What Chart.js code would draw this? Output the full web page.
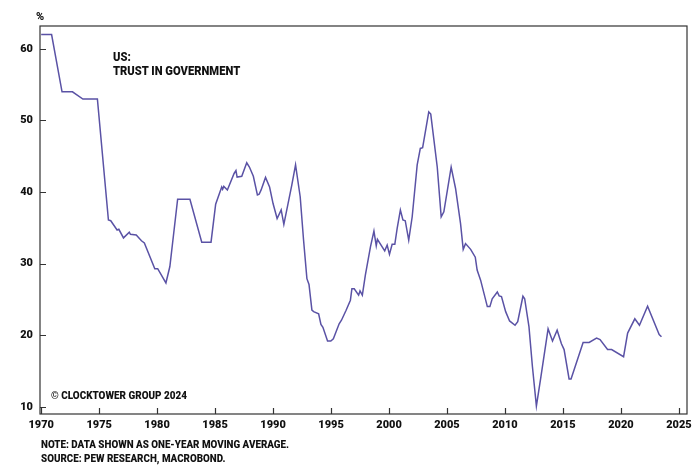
<!DOCTYPE html>
<html>
<head>
<meta charset="utf-8">
<script src="https://cdn.jsdelivr.net/npm/chart.js@4.4.1/dist/chart.umd.min.js"></script>
<style>
  body { margin: 0; background: #fff; }
  #wrap { position: relative; width: 700px; height: 467px; }
  .txt { position: absolute; font-family: Roboto, "Liberation Sans", sans-serif; font-weight: 900; color: #111; white-space: nowrap; transform-origin: 0 0; }
</style>
</head>
<body>
<div id="wrap">
  <canvas id="trustChart"></canvas>
  <div class="txt" style="left:36px; top:10px; font-size:11px;">%</div>
  <div class="txt" style="left:113px; top:50px; font-size:12.5px; line-height:13.5px; transform:scaleX(0.895);">US:<br>TRUST IN GOVERNMENT</div>
  <div class="txt" style="left:51px; top:390px; font-size:10px; transform:scaleX(0.99);">© CLOCKTOWER GROUP 2024</div>
  <div class="txt" style="left:41px; top:438px; font-size:10px; line-height:13.7px; transform:scaleX(0.98);">NOTE: DATA SHOWN AS ONE-YEAR MOVING AVERAGE.<br>SOURCE: PEW RESEARCH, MACROBOND.</div>
</div>
<script>
// one-year moving average of trust in government
const years = [1970.0, 1970.9, 1971.8, 1972.7, 1973.6, 1974.85, 1975.8, 1976.0, 1976.55, 1976.7,
  1977.1, 1977.6, 1977.7, 1978.2, 1978.65, 1978.9, 1979.8, 1980.05, 1980.76, 1981.1,
  1981.77, 1982.83, 1983.85, 1984.65, 1985.05, 1985.57, 1985.65, 1985.75, 1986.06, 1986.64,
  1986.8, 1986.9, 1987.3, 1987.73, 1987.96, 1988.3, 1988.65, 1988.8, 1988.97, 1989.35,
  1989.7, 1990.0, 1990.35, 1990.7, 1990.93, 1991.62, 1991.94, 1992.34, 1992.63, 1992.92,
  1993.1, 1993.35, 1993.5, 1993.93, 1994.13, 1994.3, 1994.7, 1994.98, 1995.2, 1995.7,
  1995.9, 1996.3, 1996.67, 1996.8, 1997.0, 1997.38, 1997.5, 1997.7, 1997.96, 1998.4,
  1998.7, 1998.9, 1999.0, 1999.63, 1999.84, 2000.04, 2000.27, 2000.5, 2000.7, 2000.98,
  2001.2, 2001.4, 2001.7, 2002.0, 2002.43, 2002.7, 2002.9, 2003.43, 2003.6, 2004.16,
  2004.5, 2004.73, 2005.36, 2005.74, 2006.17, 2006.4, 2006.6, 2007.04, 2007.44, 2007.6,
  2007.9, 2008.48, 2008.7, 2008.9, 2009.34, 2009.5, 2009.7, 2010.06, 2010.4, 2010.87,
  2011.1, 2011.55, 2011.7, 2012.07, 2012.37, 2012.71, 2013.1, 2013.72, 2014.1, 2014.5,
  2014.87, 2015.1, 2015.53, 2015.7, 2016.74, 2017.26, 2017.9, 2018.2, 2018.85, 2019.2,
  2020.23, 2020.58, 2021.2, 2021.6, 2022.3, 2023.3, 2023.5];
const trust = [62, 62, 54, 54, 53, 53, 36.1, 36, 34.7, 34.8,
  33.6, 34.4, 34.1, 34.0, 33.2, 32.9, 29.3, 29.3, 27.3, 29.6,
  39.0, 39.0, 33.0, 33.0, 38.3, 40.7, 40.4, 40.8, 40.3, 42.6,
  43.0, 42.1, 42.2, 44.1, 43.5, 42.2, 39.6, 39.7, 40.3, 42.05,
  40.7, 38.4, 36.3, 37.5, 35.5, 41.0, 43.8, 39.35, 33.3, 27.9,
  27.1, 23.5, 23.3, 23.0, 21.5, 21.1, 19.2, 19.2, 19.5, 21.6,
  22.1, 23.5, 24.9, 26.5, 26.5, 25.6, 26.2, 25.6, 28.4, 32.35,
  34.55, 32.5, 33.4, 31.8, 32.6, 31.3, 32.7, 32.7, 34.9, 37.5,
  36.1, 36.0, 33.3, 36.55, 43.8, 46.1, 46.2, 51.2, 50.9, 43.5,
  36.55, 37.25, 43.5, 40.5, 35.6, 32.0, 32.8, 32.0, 30.9, 29.1,
  27.7, 24.0, 24.0, 25.1, 26.05, 25.5, 25.4, 23.3, 22.0, 21.4,
  21.9, 25.45, 25.1, 21.2, 15.6, 10.1, 14.2, 20.9, 19.2, 20.7,
  18.8, 18.0, 13.9, 13.9, 19.0, 19.0, 19.6, 19.4, 18.0, 18.0,
  17.0, 20.3, 22.3, 21.4, 24.05, 20.1, 19.8];
const xTicks = [1970, 1975, 1980, 1985, 1990, 1995, 2000, 2005, 2010, 2015, 2020, 2025];
const yTicks = [10, 20, 30, 40, 50, 60];

const tickFont = { family: "Roboto, 'Liberation Sans', sans-serif", size: 11, weight: '900' };

// frame round the plot and short inward tick marks
const framePlugin = {
  id: 'frame',
  afterDraw(chart) {
    const { ctx, chartArea: a, scales } = chart;
    ctx.save();
    ctx.strokeStyle = '#333';
    ctx.lineWidth = 1.2;
    ctx.strokeRect(a.left, a.top, a.right - a.left, a.bottom - a.top);
    ctx.beginPath();
    scales.x.ticks.forEach(t => {
      const px = Math.round(scales.x.getPixelForValue(t.value)) + 0.5;
      ctx.moveTo(px, a.bottom);
      ctx.lineTo(px, a.bottom - 6);
    });
    scales.y.ticks.forEach(t => {
      const py = Math.round(scales.y.getPixelForValue(t.value)) + 0.5;
      ctx.moveTo(a.left, py);
      ctx.lineTo(a.left + 6, py);
    });
    ctx.stroke();
    ctx.restore();
  }
};

new Chart(document.getElementById('trustChart'), {
  type: 'line',
  data: {
    datasets: [{
      data: years.map((x, i) => ({ x: x, y: trust[i] })),
      borderColor: '#5a52a5',
      borderWidth: 1.5,
      pointRadius: 0,
      tension: 0,
      fill: false
    }]
  },
  options: {
    responsive: true,
    maintainAspectRatio: false,
    animation: false,
    layout: { padding: { top: 26, right: 13, left: 0, bottom: 0 } },
    plugins: { legend: { display: false }, tooltip: { enabled: false } },
    scales: {
      x: {
        type: 'linear',
        min: 1969.9,
        max: 2025.7,
        grid: { display: false, drawTicks: false },
        border: { display: false },
        afterBuildTicks: s => { s.ticks = xTicks.map(v => ({ value: v })); },
        afterFit: s => { s.height = 53; },
        ticks: { color: '#111', font: tickFont, padding: 5, maxRotation: 0, autoSkip: false, callback: v => String(v) }
      },
      y: {
        min: 9,
        max: 63.2,
        grid: { display: false, drawTicks: false },
        border: { display: false },
        afterBuildTicks: s => { s.ticks = yTicks.map(v => ({ value: v })); },
        afterFit: s => { s.width = 40; },
        ticks: { color: '#111', font: tickFont, padding: 7, callback: v => String(v) }
      }
    }
  },
  plugins: [framePlugin]
});
</script>
</body>
</html>
